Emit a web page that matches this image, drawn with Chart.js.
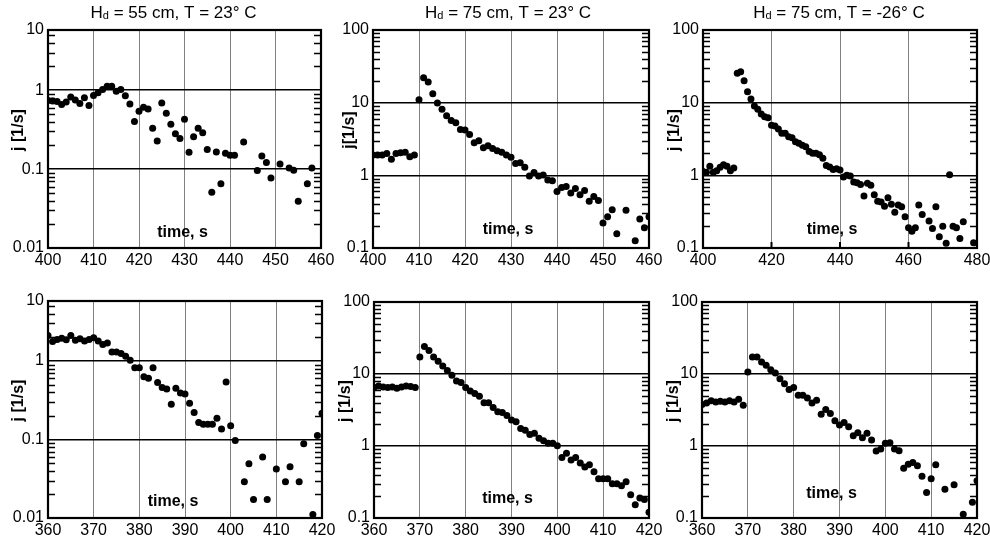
<!DOCTYPE html>
<html>
<head>
<meta charset="utf-8">
<script src="https://cdn.jsdelivr.net/npm/chart.js@4/dist/chart.umd.min.js"></script>
<style>
  body { margin: 0; background: #fff; }
  #wrap { position: relative; width: 990px; height: 547px; overflow: hidden; }
  canvas { position: absolute; }
</style>
</head>
<body>
<div id="wrap"></div>
<script>
// time, s  /  j [1/s]
const t1 = [400,401,402,403,404,405,406,407,408,409,410,411,412,413,414,415,416,417,418,419,420,421,422,423,424,425,426,427,428,429,430,431,432,433,434,435,436,437,438,439,440,441,443,446,447,448,449,451,453,454,455,457,458];
const j1 = [0.74,0.73,0.72,0.66,0.71,0.82,0.75,0.68,0.80,0.64,0.86,0.93,1.02,1.12,1.12,0.97,1.02,0.85,0.67,0.40,0.54,0.61,0.58,0.33,0.227,0.69,0.51,0.37,0.28,0.245,0.43,0.163,0.257,0.33,0.29,0.177,0.051,0.165,0.065,0.159,0.15,0.15,0.22,0.096,0.147,0.121,0.077,0.116,0.103,0.097,0.039,0.065,0.103];

const t2 = [400,401,402,403,404,405,406,407,408,409,410,411,412,413,414,415,416,417,418,419,420,421,422,423,424,425,426,427,428,429,430,431,432,433,434,435,436,437,438,439,440,441,442,443,444,445,446,447,448,449,450,451,452,453,455,457,458,459,460];
const j2 = [1.9,1.9,1.9,2.0,1.66,2.0,2.04,2.07,1.8,1.9,11,22,19.2,13.3,9.9,8.1,6.6,5.7,5.3,4.27,4.2,3.65,2.8,3.0,2.4,2.55,2.34,2.18,2.07,1.9,1.77,1.46,1.49,1.29,0.98,1.09,0.98,1.01,0.86,0.84,0.6,0.68,0.70,0.57,0.66,0.54,0.62,0.44,0.51,0.45,0.22,0.27,0.335,0.157,0.33,0.126,0.25,0.19,0.27];

const t3 = [400,401,402,403,404,405,406,407,408,409,410,411,412,413,414,415,416,417,418,419,420,421,422,423,424,425,426,427,428,429,430,431,432,433,434,435,436,437,438,439,440,441,442,443,444,445,446,447,448,449,450,451,452,453,454,455,456,457,458,459,460,461,462,463,464,466,467,468,469,470,471,472,473,474,475,476,479];
const j3 = [1.13,1.1,1.33,1.1,1.16,1.29,1.4,1.33,1.16,1.26,25.4,26.7,20,14.1,11.2,9.0,8.1,7.0,6.4,6.2,4.9,4.76,4.33,3.78,3.78,3.4,3.3,2.9,2.76,2.6,2.48,2.13,2.02,2.02,1.92,1.72,1.37,1.3,1.2,1.23,1.18,0.95,1.0,0.98,0.81,0.79,0.75,0.52,0.78,0.73,0.54,0.44,0.43,0.376,0.49,0.40,0.31,0.39,0.37,0.27,0.19,0.17,0.19,0.39,0.29,0.235,0.186,0.37,0.143,0.2,0.116,1.02,0.2,0.19,0.135,0.23,0.118];

const t4 = [360,361,362,363,364,365,366,367,368,369,370,371,372,373,374,375,376,377,378,379,380,381,382,383,384,385,386,387,388,389,390,391,392,393,394,395,396,397,398,399,400,401,403,404,405,407,408,410,412,413,415,416,418,419,420];
const j4 = [2.11,1.77,1.88,1.95,1.86,2.11,1.83,1.92,1.79,1.88,1.97,1.79,1.62,1.69,1.3,1.3,1.24,1.15,1.02,0.82,0.82,0.63,0.6,0.82,0.53,0.46,0.44,0.28,0.45,0.39,0.38,0.29,0.22,0.164,0.156,0.156,0.156,0.186,0.136,0.54,0.149,0.097,0.029,0.049,0.0172,0.06,0.0172,0.042,0.029,0.045,0.029,0.088,0.0111,0.112,0.216];

const t5 = [360,361,362,363,364,365,366,367,368,369,370,371,372,373,374,375,376,377,378,379,380,381,382,383,384,385,386,387,388,389,390,391,392,393,394,395,396,397,398,399,400,401,402,403,404,405,406,407,408,409,410,411,412,413,414,415,416,417,418,419,420];
const j5 = [6.47,6.8,6.6,6.47,6.6,6.35,6.6,6.8,6.7,6.47,17.2,24.1,21.2,17.2,15,12.9,11.2,9.6,8.0,7.6,6.47,5.8,5.35,4.91,3.98,4.0,3.42,2.98,2.93,2.65,2.29,2.17,1.75,1.66,1.45,1.5,1.28,1.18,1.09,1.09,1.01,0.69,0.79,0.64,0.69,0.58,0.51,0.55,0.44,0.35,0.35,0.35,0.30,0.30,0.28,0.32,0.21,0.153,0.19,0.18,0.12];

const t6 = [360,361,362,363,364,365,366,367,368,369,370,371,372,373,374,375,376,377,378,379,380,381,382,383,384,385,386,387,388,389,390,391,392,393,394,395,396,397,398,399,400,401,402,403,404,405,406,407,408,409,410,411,413,415,417,419,420];
const j6 = [3.77,3.97,4.24,4.1,4.2,4.1,4.24,4.1,4.47,3.69,10.7,17.2,17.2,14.7,13.2,11.5,10.3,8.6,7.35,6.1,6.47,5.07,5.07,4.66,3.97,4.32,2.77,3.21,2.83,2.24,1.95,2.12,1.85,1.39,1.53,1.3,1.5,1.21,0.85,0.91,1.09,1.11,0.91,0.86,0.49,0.56,0.59,0.53,0.38,0.226,0.35,0.55,0.25,0.29,0.113,0.165,0.33];

// y ticks: the upper panels on the left stop a little above 5 but the top is labelled 10
const yTicksA = [0.01, 0.1, 1, 5.8];
const yLabelsA = ['0.01', '0.1', '1', '10'];
const yTicksB = [0.1, 1, 10, 100];
const yLabelsB = ['0.1', '1', '10', '100'];

const FONT = '"Liberation Sans", Arial, sans-serif';

const panels = [
  { L: 48,  T: 30,  R: 321, B: 248, t: t1, j: j1, xMin: 400, xMax: 460, xStep: 10, yT: yTicksA, yL: yLabelsA,
    title: ' = 55 cm, T = 23° C', titleDx: -11, yTitle: 'j [1/s]', yTitleDx: 29, timeDx: -2, timeDy: 15 },
  { L: 373, T: 30,  R: 649, B: 248, t: t2, j: j2, xMin: 400, xMax: 460, xStep: 10, yT: yTicksB, yL: yLabelsB,
    title: ' = 75 cm, T = 23° C', titleDx: -3, yTitle: 'j[1/s]', yTitleDx: 23, timeDx: -3, timeDy: 18 },
  { L: 703, T: 30,  R: 977, B: 248, t: t3, j: j3, xMin: 400, xMax: 480, xStep: 20, yT: yTicksB, yL: yLabelsB,
    title: ' = 75 cm, T = -26° C', titleDx: -1, yTitle: 'j [1/s]', yTitleDx: 28, timeDx: -8, timeDy: 18, xMarks: true },
  { L: 48,  T: 301, R: 322, B: 518, t: t4, j: j4, xMin: 360, xMax: 420, xStep: 10, yT: yTicksA, yL: yLabelsA,
    yTitle: 'j [1/s]', yTitleDx: 29, timeDx: -12, timeDy: 16 },
  { L: 374, T: 302, R: 649, B: 518, t: t5, j: j5, xMin: 360, xMax: 420, xStep: 10, yT: yTicksB, yL: yLabelsB,
    yTitle: 'j [1/s]', yTitleDx: 28, timeDx: -4, timeDy: 19 },
  { L: 702, T: 302, R: 977, B: 518, t: t6, j: j6, xMin: 360, xMax: 420, xStep: 10, yT: yTicksB, yL: yLabelsB,
    yTitle: 'j [1/s]', yTitleDx: 28, timeDx: -8, timeDy: 24 }
];

// frame, minor ticks, titles and the in-plot labels
const decor = {
  id: 'decor',
  afterDraw(chart, args, o) {
    const { ctx, chartArea: a, scales: { x, y } } = chart;
    ctx.save();
    ctx.strokeStyle = '#000';
    ctx.fillStyle = '#000';

    // minor ticks on both sides
    ctx.lineWidth = 1.5;
    ctx.beginPath();
    const top = y.getValueForPixel(a.top);
    for (let d = y.getValueForPixel(a.bottom); d < top; d *= 10) {
      for (let k = 2; k <= 9; k++) {
        const v = k * d;
        if (v >= top) break;
        const py = Math.round(y.getPixelForValue(v)) + 0.5;
        ctx.moveTo(a.left, py); ctx.lineTo(a.left + 7, py);
        ctx.moveTo(a.right - 7, py); ctx.lineTo(a.right, py);
      }
    }
    ctx.stroke();

    if (o.xMarks) {
      ctx.lineWidth = 2;
      ctx.beginPath();
      x.ticks.forEach(tk => {
        const px = x.getPixelForValue(tk.value);
        ctx.moveTo(px, a.bottom); ctx.lineTo(px, a.bottom - 6);
      });
      ctx.stroke();
    }

    // frame
    ctx.lineWidth = 2.2;
    ctx.strokeRect(a.left, a.top, a.width, a.height);

    // title with subscript d
    if (o.title) {
      const big = '17px ' + FONT, small = '11px ' + FONT;
      ctx.font = big;
      const wH = ctx.measureText('H').width, wRest = ctx.measureText(o.title).width;
      ctx.font = small;
      const wd = ctx.measureText('d').width;
      let sx = (a.left + a.right) / 2 + o.titleDx - (wH + wd + wRest) / 2;
      ctx.textAlign = 'left';
      ctx.textBaseline = 'alphabetic';
      ctx.font = big; ctx.fillText('H', sx, 18); sx += wH;
      ctx.font = small; ctx.fillText('d', sx, 19); sx += wd;
      ctx.font = big; ctx.fillText(o.title, sx, 18);
    }

    // y title
    ctx.font = 'bold 16px ' + FONT;
    ctx.textAlign = 'center';
    ctx.textBaseline = 'middle';
    ctx.save();
    ctx.translate(a.left - o.yTitleDx, (a.top + a.bottom) / 2 - 9);
    ctx.rotate(-Math.PI / 2);
    ctx.fillText(o.yTitle, 0, 0);
    ctx.restore();

    // x title inside the plot
    ctx.fillText('time, s', (a.left + a.right) / 2 + o.timeDx, a.bottom - o.timeDy);
    ctx.restore();
  }
};

const wrap = document.getElementById('wrap');

panels.forEach(p => {
  const cv = document.createElement('canvas');
  const w = p.R - p.L + 48 + 18;
  const h = p.B - p.T + 30 + 26;
  cv.width = w; cv.height = h;
  cv.style.left = (p.L - 48) + 'px';
  cv.style.top = (p.T - 30) + 'px';
  cv.style.width = w + 'px'; cv.style.height = h + 'px';
  wrap.appendChild(cv);

  new Chart(cv, {
    type: 'scatter',
    data: {
      datasets: [{
        data: p.t.map((v, i) => ({ x: v, y: p.j[i] })),
        backgroundColor: '#000',
        borderWidth: 0,
        pointRadius: 3.5,
        pointHoverRadius: 3.5
      }]
    },
    options: {
      responsive: false,
      animation: false,
      events: [],
      layout: { padding: { top: 30, right: 18, left: 0, bottom: 0 } },
      plugins: {
        legend: { display: false },
        tooltip: { enabled: false },
        decor: { title: p.title, titleDx: p.titleDx, yTitle: p.yTitle, yTitleDx: p.yTitleDx,
                 timeDx: p.timeDx, timeDy: p.timeDy, xMarks: p.xMarks }
      },
      scales: {
        x: {
          type: 'linear',
          min: p.xMin,
          max: p.xMax,
          afterFit(s) { s.height = 26; },
          grid: { color: '#808080', lineWidth: 1, drawTicks: false },
          border: { display: false },
          ticks: { stepSize: p.xStep, autoSkip: false, maxRotation: 0, padding: 3, color: '#000',
                   font: { family: FONT, size: 16 } }
        },
        y: {
          type: 'logarithmic',
          min: p.yT[0],
          max: p.yT[p.yT.length - 1],
          afterFit(s) { s.width = 48; },
          afterBuildTicks(s) { s.ticks = p.yT.map(v => ({ value: v })); },
          grid: { color: '#000', lineWidth: 1.5, drawTicks: false },
          border: { display: false },
          ticks: {
            autoSkip: false, padding: 4, color: '#000',
            font: { family: FONT, size: 16 },
            callback: (v, i) => p.yL[i]
          }
        }
      }
    },
    plugins: [decor]
  });
});
</script>
</body>
</html>
